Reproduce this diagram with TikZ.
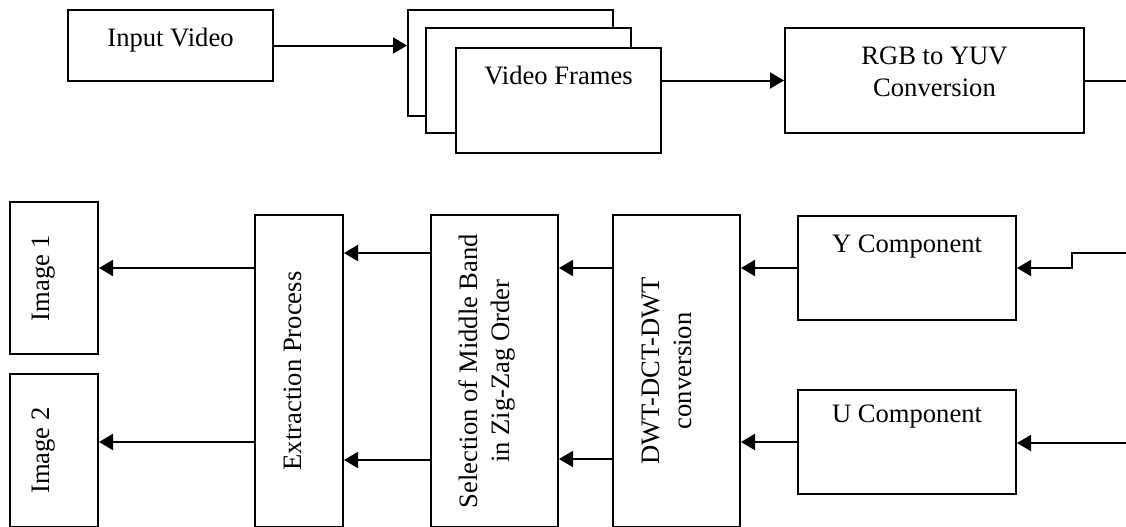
\documentclass[tikz,border=0pt]{standalone}
\usepackage{fontspec}
\setmainfont{Liberation Serif}
\usetikzlibrary{arrows.meta,positioning}

\begin{document}
\begin{tikzpicture}[x=0.5pt,y=-0.5pt,font=\fontsize{13.3}{16}\selectfont,
  blk/.style={draw,line width=1pt,fill=white,inner xsep=2pt,inner ysep=0pt,align=center},
  sz/.style n args={3}{minimum width=#1,minimum height=#2,text height=#3,text depth=#2-#3},
  arr/.style={line width=1pt,-{Triangle[length=7pt,width=8pt]}},
  ln/.style={line width=1pt}]
  \useasboundingbox (0,0) rectangle (1126,526);
  \clip (0,0) rectangle (1126,526);
  % top row
  \node[blk,sz={102.5pt}{35.5pt}{18pt}] (invid) at (170.5,45.5) {Input Video};
  \node[blk,sz={102.5pt}{53pt}{18pt}] (fr1) at (510.5,63) {};
  \node[blk,sz={102.5pt}{52.5pt}{18pt}] (fr2) at (528.5,80.5) {};
  \node[blk,sz={102.5pt}{52.5pt}{18pt}] (fr3) at (558.5,100.5) {Video Frames};
  \node[blk,sz={149.5pt}{52.5pt}{34pt}] (rgb) at (934.5,80.5) {RGB to YUV\\Conversion};
  % components
  \node[blk,sz={109pt}{52pt}{18pt}] (ycomp) at (907,268) {Y Component};
  \node[blk,sz={109pt}{52pt}{16pt}] (ucomp) at (907,442) {U Component};
  % tall blocks
  \node[blk,rotate=90,sz={156pt}{63.5pt}{39pt}] (dwt) at (676.5,371) {DWT-DCT-DWT\\conversion};
  \node[blk,rotate=90,sz={156pt}{63.5pt}{39pt}] (sel) at (494.5,371) {Selection of Middle Band\\in Zig-Zag Order};
  \node[blk,rotate=90,sz={156pt}{44pt}{23pt}] (extr) at (299,371) {Extraction Process};
  \node[blk,rotate=90,sz={76pt}{44pt}{19.5pt}] (img1) at (54,278) {Image 1};
  \node[blk,rotate=90,sz={76.5pt}{44pt}{19.5pt}] (img2) at (54,450.5) {Image 2};
  % free ends at the right edge
  \coordinate (rgbout) at (1126,80.5);
  \coordinate (yin) at (1126,253);
  \coordinate (uin) at (1126,443);
  % connectors
  \draw[arr] (invid.east) -- (invid.east -| fr1.west);
  \draw[arr] (fr3.east |- rgb.west) -- (rgb.west);
  \draw[ln] (rgb.east) -- (rgbout);
  \draw[arr] (yin) -- ++(-54,0) |- (ycomp.east);
  \draw[arr] (uin) -- (uin -| ucomp.east);
  \draw[arr] (ycomp.west) -- (ycomp.west -| dwt.south);
  \draw[arr] (ucomp.west) -- (ucomp.west -| dwt.south);
  \draw[arr] (dwt.north |- 0,268) -- (sel.south |- 0,268);
  \draw[arr] (dwt.north |- 0,459) -- (sel.south |- 0,459);
  \draw[arr] (sel.north |- 0,253) -- (extr.south |- 0,253);
  \draw[arr] (sel.north |- 0,460) -- (extr.south |- 0,460);
  \draw[arr] (extr.north |- 0,268) -- (img1.south |- 0,268);
  \draw[arr] (extr.north |- 0,442) -- (img2.south |- 0,442);
\end{tikzpicture}
\end{document}
